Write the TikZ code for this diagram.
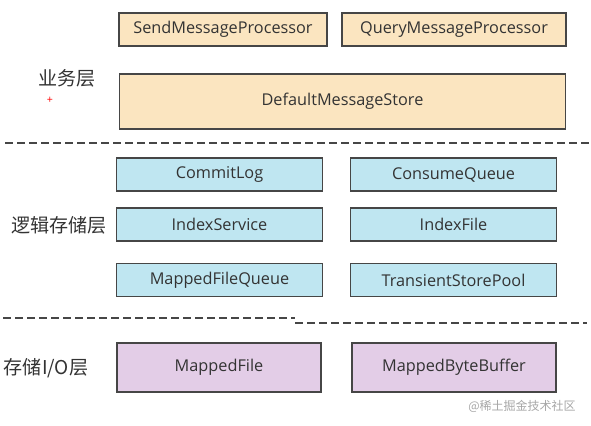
\documentclass[tikz,border=0pt]{standalone}
\usepackage{fontspec}
\setmainfont{Open Sans}
\newfontfamily\cjk{Noto Sans CJK SC}
\definecolor{bizfill}{HTML}{FBE5C0}
\definecolor{logfill}{HTML}{BFE6F1}
\definecolor{iofill}{HTML}{E3CDE7}
\definecolor{boxline}{HTML}{464646}
\begin{document}
\begin{tikzpicture}[x=0.75pt,y=-0.75pt,
    box/.style={draw=boxline,line width=0.9pt,inner sep=0pt,
        font=\fontsize{12.2}{14}\selectfont,text=black!80},
    biz/.style={box,fill=bizfill},
    logic/.style={box,fill=logfill,minimum width=155pt,minimum height=24.75pt},
    io/.style={box,fill=iofill,minimum width=153pt,minimum height=36.75pt},
    layer/.style={font=\cjk\fontsize{14.3}{16}\selectfont,text=black!80},
    sep/.style={boxline,line width=1pt,dash pattern=on 6pt off 3pt}]
    \useasboundingbox (0,0) rectangle (591,425);

    % business layer
    \node[biz,minimum width=156pt,minimum height=24.75pt] (send) at (223,29.5) {SendMessageProcessor};
    \node[biz,minimum width=168pt,minimum height=24.75pt] (query) at (454,29.5) {QueryMessageProcessor};
    \node[biz,minimum width=335pt,minimum height=41.25pt] (store) at (342.5,101.5) {DefaultMessageStore};
    \node[layer] (bizlayer) at (67,78) {业务层};
    \node[text=red,font=\footnotesize] (mark) at (50,100) {+};
    \draw[sep] (5,143) -- (591,143);

    % logical storage layer
    \node[logic] (clog) at (219.5,174.5) {CommitLog};
    \node[logic] (cqueue) at (453.5,174.5) {ConsumeQueue};
    \node[logic] (isvc) at (219.5,224.5) {IndexService};
    \node[logic] (ifile) at (453.5,224.5) {IndexFile};
    \node[logic] (mfq) at (219.5,280) {MappedFileQueue};
    \node[logic] (tsp) at (453.5,280) {TransientStorePool};
    \node[layer] (logiclayer) at (59,225) {逻辑存储层};
    \draw[sep] (3,318) -- (295,318);
    \draw[sep] (295,323) -- (587,323);

    % storage I/O layer
    \node[io] (mfile) at (219,367.5) {MappedFile};
    \node[io] (mbb) at (454,367.5) {MappedByteBuffer};
    \node[layer] (iolayer) at (46,368) {存储I/O层};
    \node[font=\cjk\fontsize{9}{11}\selectfont,text=black!35] (wm) at (522,406) {@稀土掘金技术社区};
\end{tikzpicture}
\end{document}
